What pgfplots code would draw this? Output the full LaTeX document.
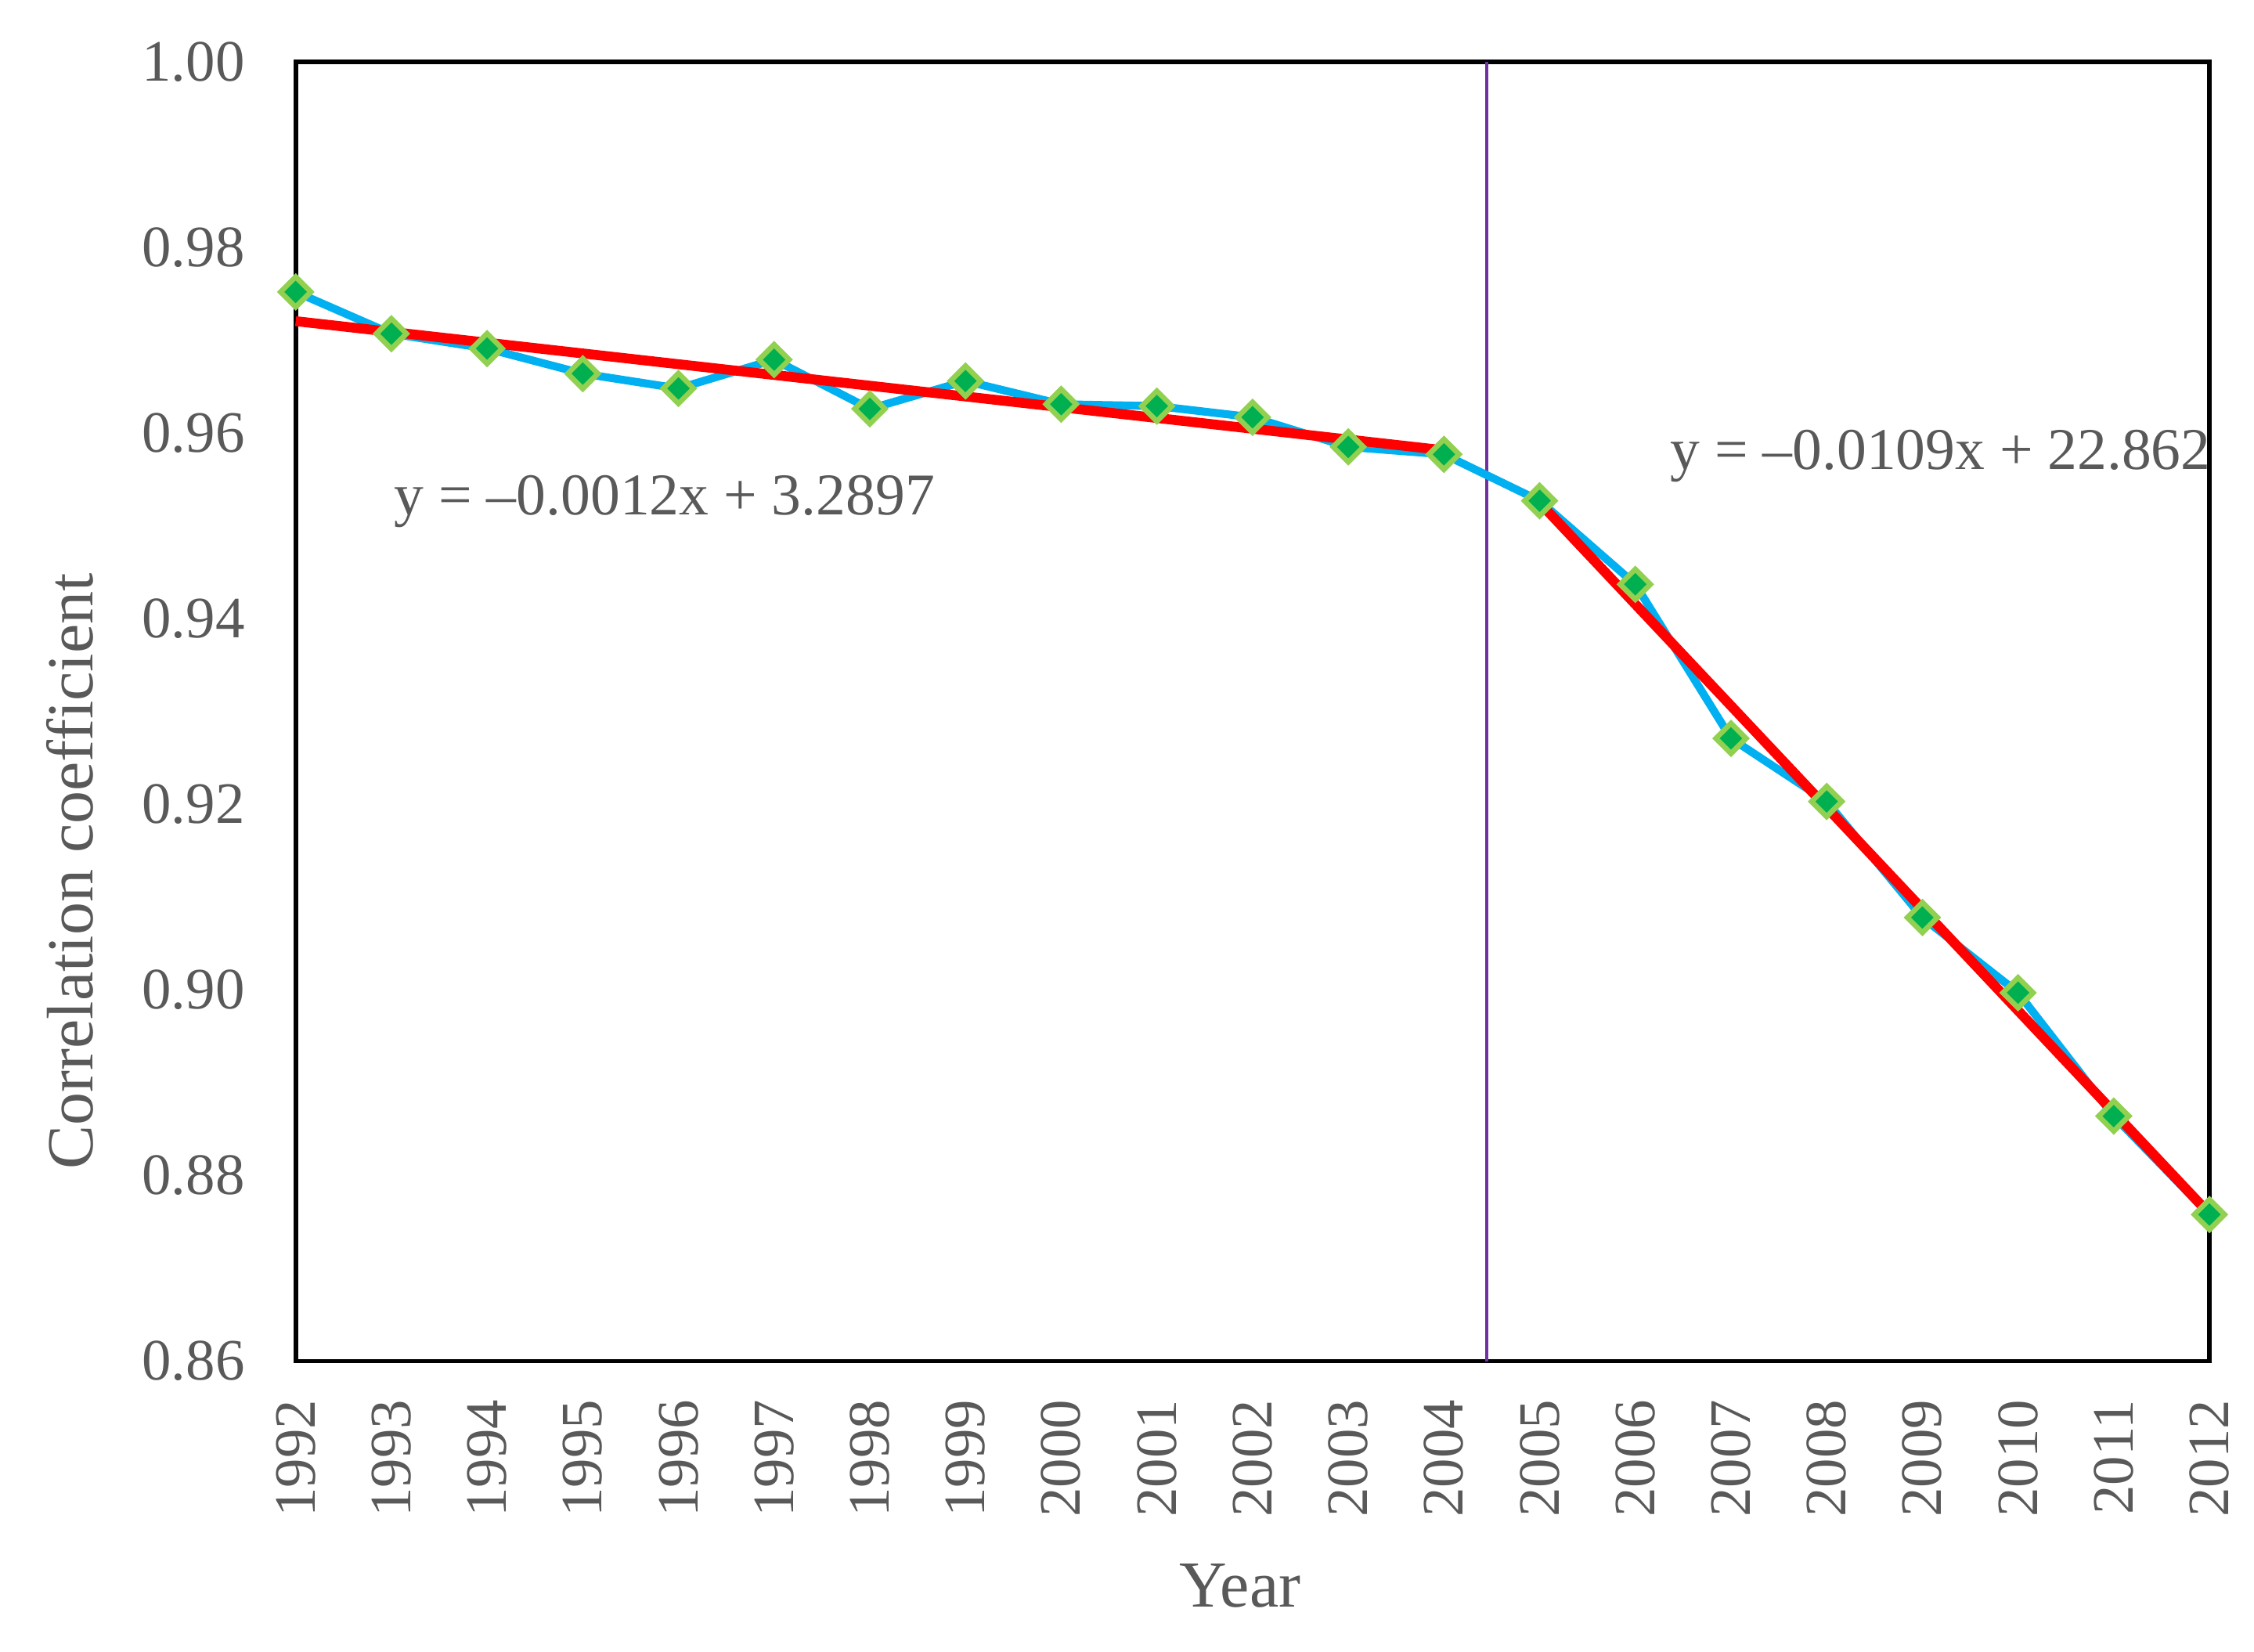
\documentclass[border=0pt]{standalone}
\usepackage{pgfplots}
\pgfplotsset{compat=1.18}
\usepackage{fontspec}
\setmainfont{Liberation Serif}
\definecolor{txt}{HTML}{595959}
\definecolor{lineblue}{HTML}{00B0F0}
\definecolor{mkfill}{HTML}{00B050}
\definecolor{mkdraw}{HTML}{92D050}
\definecolor{purp}{HTML}{7030A0}
\begin{document}
\begin{tikzpicture}
\useasboundingbox (-53.96pt,-52.93pt) rectangle (357.34pt,248.37pt);
\begin{axis}[
  at={(0,0)}, anchor=south west,
  scale only axis, width=349.2pt, height=237.1pt,
  xmin=1992, xmax=2012, ymin=0.86, ymax=1.00,
  xtick={1992,1993,1994,1995,1996,1997,1998,1999,2000,2001,2002,2003,2004,2005,2006,2007,2008,2009,2010,2011,2012},
  ytick={0.86,0.88,0.90,0.92,0.94,0.96,0.98,1.00},
  major tick length=0pt,
  clip=false,
  axis line style={line width=0.8pt, black},
  /pgf/number format/assume math mode=true,
  tick label style={font=\fontsize{10.7}{13}\selectfont, text=txt, inner sep=0pt},
  yticklabel style={/pgf/number format/fixed, /pgf/number format/fixed zerofill, /pgf/number format/precision=2},
  xticklabel style={rotate=90, anchor=east, /pgf/number format/1000 sep={}},
  yticklabel shift=9.1pt,
  xticklabel shift=6.85pt,
  xlabel={Year},
  xlabel style={font=\fontsize{12}{14}\selectfont, text=txt, at={(axis description cs:0.4935,-0.15547)}, anchor=north, inner sep=0pt},
  ylabel={Correlation coefficient},
  ylabel style={font=\fontsize{12}{14}\selectfont, text=txt, at={(axis description cs:-0.1051,0.377)}, anchor=south, inner sep=0pt},
]
\addplot[purp, line width=0.55pt] coordinates {(2004.45,0.86) (2004.45,1.00)};
\addplot[lineblue, line width=1.45pt, mark=square*, mark size=1.95pt,
  mark options={rotate=45, fill=mkfill, draw=mkdraw, line width=0.95pt}] coordinates {
 (1992,0.9752) (1993,0.9707) (1994,0.9691) (1995,0.9664) (1996,0.9648)
 (1997,0.9679) (1998,0.9626) (1999,0.9656) (2000,0.9631) (2001,0.9629)
 (2002,0.9617) (2003,0.9585) (2004,0.9577) (2005,0.9527) (2006,0.9437)
 (2007,0.9271) (2008,0.9203) (2009,0.9078) (2010,0.8997) (2011,0.8864)
 (2012,0.8758)};
\addplot[red, line width=1.8pt] coordinates {(1992,0.97205) (2004,0.95814)};
\addplot[red, line width=1.8pt] coordinates {(2005,0.95250) (2012,0.87588)};
\node[anchor=base west, inner sep=0pt, text=txt, font=\fontsize{10.8}{13}\selectfont] at (axis cs:1993.02,0.9512) {y = –0.0012x + 3.2897};
\node[anchor=base west, inner sep=0pt, text=txt, font=\fontsize{10.8}{13}\selectfont] at (axis cs:2006.355,0.9561) {y = –0.0109x + 22.862};
\end{axis}
\end{tikzpicture}
\end{document}
